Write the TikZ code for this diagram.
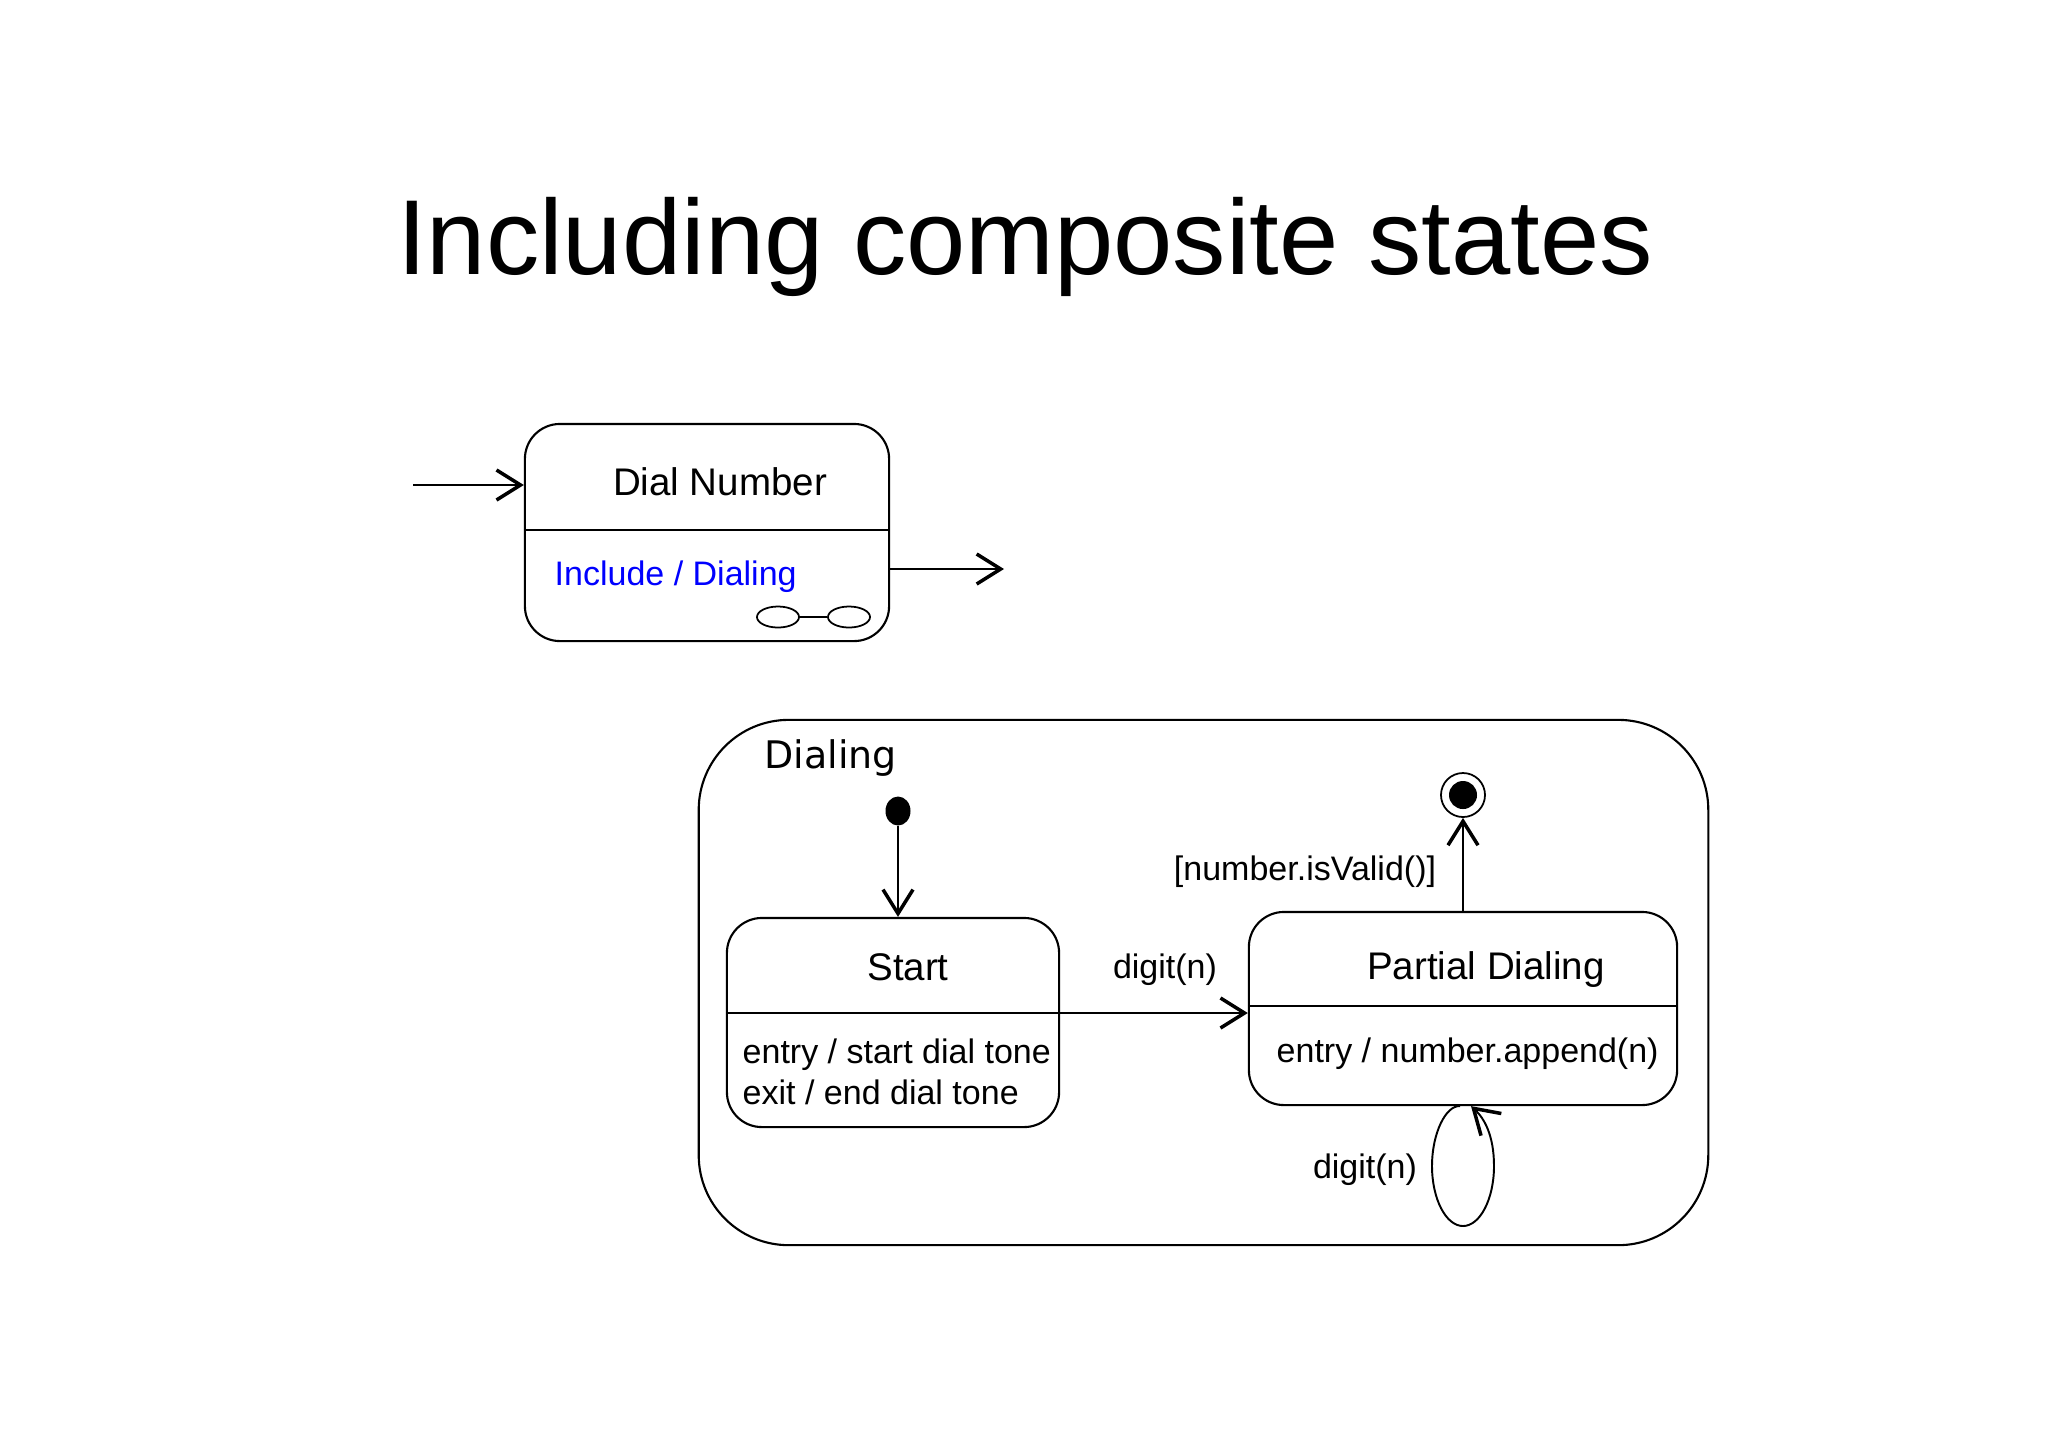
\documentclass[tikz,border=0pt]{standalone}
\usepackage{fontspec}
\setmainfont{Liberation Sans}
\newfontfamily\dejavu{DejaVu Sans}
\usetikzlibrary{shapes.geometric, arrows.meta, positioning, calc}
\tikzset{
    statebox/.style={rectangle, rounded corners=0.35cm, draw=black, line width=0.6pt, inner sep=0pt},
    composite/.style={rectangle, rounded corners=0.9cm, draw=black, line width=0.6pt, inner sep=0pt},
    statename/.style={font=\fontsize{10.95}{13}\selectfont, anchor=base, inner sep=0pt},
    action/.style={font=\fontsize{9.67}{12}\selectfont, anchor=base west, inner sep=0pt},
    trigger/.style={font=\fontsize{9.67}{12}\selectfont, anchor=base, inner sep=0pt},
    subicon/.style={ellipse, draw, line width=0.5pt, minimum width=0.42cm, minimum height=0.21cm, inner sep=0pt},
    startdot/.style={ellipse, fill=black, minimum width=0.25cm, minimum height=0.29cm, inner sep=0pt},
    enddot/.style={circle, draw, line width=0.5pt, minimum size=0.44cm, inner sep=0pt,
        path picture={\fill[black] (path picture bounding box.center) circle (0.14cm);}},
    arrow/.style={line width=0.55pt, -{Straight Barb[length=0.24cm, width=0.30cm, line width=1pt]}},
}
\begin{document}
\begin{tikzpicture}[x=0.01cm, y=-0.01cm]
    \useasboundingbox (0,0) rectangle (2048,1447);

    \node [font=\fontsize{30.3}{36}\selectfont, anchor=base] (title) at (1025,274) {Including composite states};

    \node [statebox, minimum width=3.64cm, minimum height=2.17cm] (dialnum) at (707,532.5) {};
    \coordinate (dialdiv) at (0,530);
    \draw [line width=0.6pt] (dialnum.west |- dialdiv) -- (dialnum.east |- dialdiv);
    \node [statename] (dialname) at (720,495) {Dial Number};
    \node [action, text=blue] (include) at (554,585) {Include / Dialing};
    \node [subicon] (iconl) at (778,617) {};
    \node [subicon] (iconr) at (849,617) {};
    \draw [line width=0.5pt] (iconl) -- (iconr);
    \coordinate (dialin) at (413,485);
    \coordinate (dialout) at (1004,569);
    \draw [arrow] (dialin) -- (dialin -| dialnum.west);
    \draw [arrow] (dialnum.east |- dialout) -- (dialout);

    \node [composite, minimum width=10.09cm, minimum height=5.25cm] (dialing) at (1203.5,982.5) {};
    \node [font=\dejavu\fontsize{10.8}{13}\selectfont, anchor=base west, inner sep=0pt] (dialingname) at (764,768) {Dialing};

    \node [startdot] (init) at (898,811) {};
    \node [statebox, minimum width=3.32cm, minimum height=2.09cm] (start) at (893,1022.5) {};
    \coordinate (startdiv) at (0,1013);
    \draw [line width=0.6pt] (start.west |- startdiv) -- (start.east |- startdiv);
    \node [statename] (startname) at (908,980) {Start};
    \node [action] (startentry) at (742,1063) {entry / start dial tone};
    \node [action] (startexit) at (742,1104) {exit / end dial tone};

    \node [statebox, minimum width=4.28cm, minimum height=1.93cm] (partial) at (1463,1008.5) {};
    \coordinate (partialdiv) at (0,1006);
    \draw [line width=0.6pt] (partial.west |- partialdiv) -- (partial.east |- partialdiv);
    \node [statename] (partialname) at (1486,979) {Partial Dialing};
    \node [action] (partialentry) at (1276,1062) {entry / number.append(n)};

    \node [enddot] (final) at (1463,795) {};

    \draw [arrow] (init) -- (init |- start.north);
    \draw [arrow] (start.east |- startdiv) -- (startdiv -| partial.west);
    \node [trigger] (digit) at (1165,978) {digit(n)};
    \draw [arrow] (partial.north) -- (final);
    \node [trigger] (guard) at (1305,880) {[number.isValid()]};
    \draw [arrow] ([xshift=-0.03cm]partial.south) .. controls (1446,1105) and (1432,1133) .. (1432,1166)
        .. controls (1432,1199) and (1446,1226) .. (1463,1226)
        .. controls (1480,1226) and (1494,1199) .. (1494,1166)
        .. controls (1494,1135) and (1484,1118) .. ([xshift=0.08cm]partial.south);
    \node [trigger] (loopdigit) at (1365,1178) {digit(n)};
\end{tikzpicture}
\end{document}
